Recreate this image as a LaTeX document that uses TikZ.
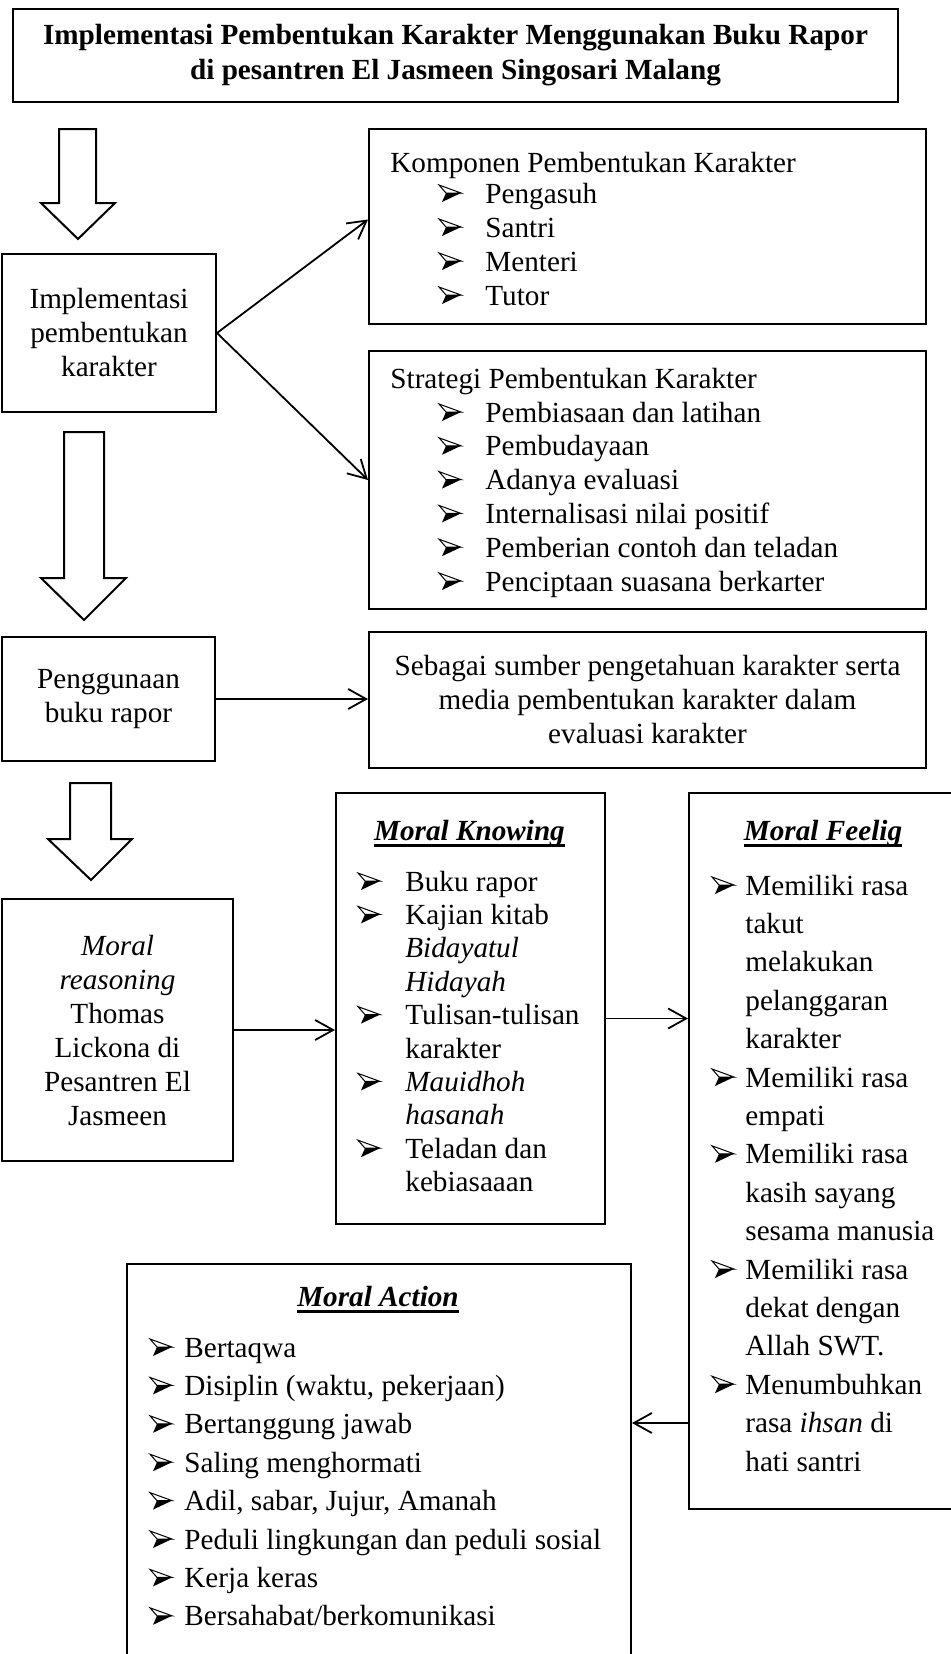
\documentclass[tikz,border=0pt]{standalone}
\usepackage{fontspec}
\setmainfont{Liberation Serif}
\usetikzlibrary{arrows.meta,calc}
\newcommand\myul[1]{\setbox0\hbox{#1}\rlap{\rule[-3.6pt]{\wd0}{1.4pt}}\box0}
\tikzset{
 bx/.style={draw, line width=1pt, anchor=north west, inner sep=0pt},
 txt/.style={font=\fontsize{14.6}{17}\selectfont, inner sep=0pt},
 itm/.style={txt, anchor=base west},
 cbx/.style={bx, align=center, font=\fontsize{14.6}{17}\selectfont},
 conn/.style={line width=0.9pt, -{Straight Barb[length=9pt,width=10pt,line width=0.9pt]}},
 hollow/.style={draw, line width=1pt, line join=miter},
 bul/.pic={\draw[line width=0.5pt, line join=miter] (0,-8)--(22,0)--(7,0)--cycle; \fill (7,0)--(22,0)--(3,9)--cycle;}
}
\begin{document}
\begin{tikzpicture}[x=0.5pt,y=-0.5pt]
\useasboundingbox (0,0) rectangle (950,1654);

% boxes
\node[cbx, font=\bfseries\fontsize{14.6}{17.5}\selectfont, minimum width=442.5pt, minimum height=46.5pt] (title) at (12,8)
 {Implementasi Pembentukan Karakter Menggunakan Buku Rapor\\di pesantren El Jasmeen Singosari Malang};
\node[cbx, minimum width=107pt, minimum height=79pt] (impl) at (1,253) {Implementasi\\pembentukan\\karakter};
\node[bx, minimum width=278.5pt, minimum height=97.5pt] (komp) at (368,128) {};
\node[bx, minimum width=278.5pt, minimum height=129pt] (strat) at (368,350) {};
\node[cbx, minimum width=106.5pt, minimum height=62pt] (peng) at (1,636) {Penggunaan\\buku rapor};
\node[cbx, minimum width=278.5pt, minimum height=68pt] (seb) at (368,631) {Sebagai sumber pengetahuan karakter serta\\media pembentukan karakter dalam\\evaluasi karakter};
\node[cbx, minimum width=115.5pt, minimum height=131pt] (reas) at (1,898) {\textit{Moral}\\\textit{reasoning}\\Thomas\\Lickona di\\Pesantren El\\Jasmeen};
\node[bx, minimum width=134.5pt, minimum height=215.5pt] (know) at (335,792) {};
\node[bx, minimum width=133.5pt, minimum height=358pt] (feel) at (688,792) {};
\node[bx, minimum width=252pt, minimum height=228.5pt] (act) at (126,1263) {};

% hollow arrows
\draw[hollow] (59,129) -- (96,129) -- (96,203) -- (115,203) -- (78,239) -- (41,203) -- (59,203) -- cycle;
\draw[hollow] (64,432) -- (104,432) -- (104,578) -- (126,578) -- (84,620) -- (41,578) -- (64,578) -- cycle;
\draw[hollow] (70,783) -- (111,783) -- (111,839) -- (132,839) -- (91,880) -- (48,839) -- (70,839) -- cycle;

% connectors
\draw[conn] (impl.east) -- ($(komp.west)+(0,-7)$);
\draw[conn] (impl.east) -- (strat.west);
\draw[conn] (peng.east) -- (peng.east -| seb.west);
\draw[conn] (reas.east) -- (reas.east -| know.west);
\coordinate (k1) at ($(know.east)+(0,10)$);
\draw[conn] (k1) -- (k1 -| feel.west);
\coordinate (f1) at ($(feel.south west)+(0,-87)$);
\draw[conn] (f1) -- (f1 -| act.east);

% Komponen
\node[itm] (kh) at (390,172) {Komponen Pembentukan Karakter};
\foreach \t [count=\i from 0] in {Pengasuh,Santri,Menteri,Tutor}{
 \pic at (439,{193+34*\i}) {bul};
 \node[itm] (k\i) at (485,{203+34*\i}) {\t};
}

% Strategi
\node[itm] (sh) at (390,388) {Strategi Pembentukan Karakter};
\foreach \t [count=\i from 0] in {Pembiasaan dan latihan,Pembudayaan,Adanya evaluasi,Internalisasi nilai positif,Pemberian contoh dan teladan,Penciptaan suasana berkarter}{
 \pic at (439,{412+33.8*\i}) {bul};
 \node[itm] (s\i) at (485,{422+33.8*\i}) {\t};
}

% Moral Knowing
\node[txt, anchor=base] (knh) at (469.5,840) {\myul{\bfseries\itshape Moral Knowing}};
\foreach \t [count=\i from 0] in {Buku rapor,Kajian kitab,\textit{Bidayatul},\textit{Hidayah},Tulisan-tulisan,karakter,\textit{Mauidhoh},\textit{hasanah},Teladan dan,kebiasaaan}
 \node[itm] (kn\i) at (405,{891+33.4*\i}) {\t};
\foreach \i in {0,1,4,6,8} \pic at (358,{881+33.4*\i}) {bul};

% Moral Feelig
\node[txt, anchor=base] (feh) at (823,840) {\myul{\bfseries\itshape Moral Feelig}};
\foreach \t [count=\i from 0] in {Memiliki rasa,takut,melakukan,pelanggaran,karakter,Memiliki rasa,empati,Memiliki rasa,kasih sayang,sesama manusia,Memiliki rasa,dekat dengan,Allah SWT.,Menumbuhkan,rasa \textit{ihsan} di,hati santri}
 \node[itm] (fe\i) at (745,{895+38.4*\i}) {\t};
\foreach \i in {0,5,7,10,13} \pic at (712,{885+38.4*\i}) {bul};

% Moral Action
\node[txt, anchor=base] (ach) at (378,1306) {\myul{\bfseries\itshape Moral Action}};
\foreach \t [count=\i from 0] in {Bertaqwa,{Disiplin (waktu, pekerjaan)},Bertanggung jawab,Saling menghormati,{Adil, sabar, Jujur, Amanah},Peduli lingkungan dan peduli sosial,Kerja keras,Bersahabat/berkomunikasi}{
 \pic at (150,{1347+38.4*\i}) {bul};
 \node[itm] (a\i) at (184,{1357+38.4*\i}) {\t};
}
\end{tikzpicture}
\end{document}
